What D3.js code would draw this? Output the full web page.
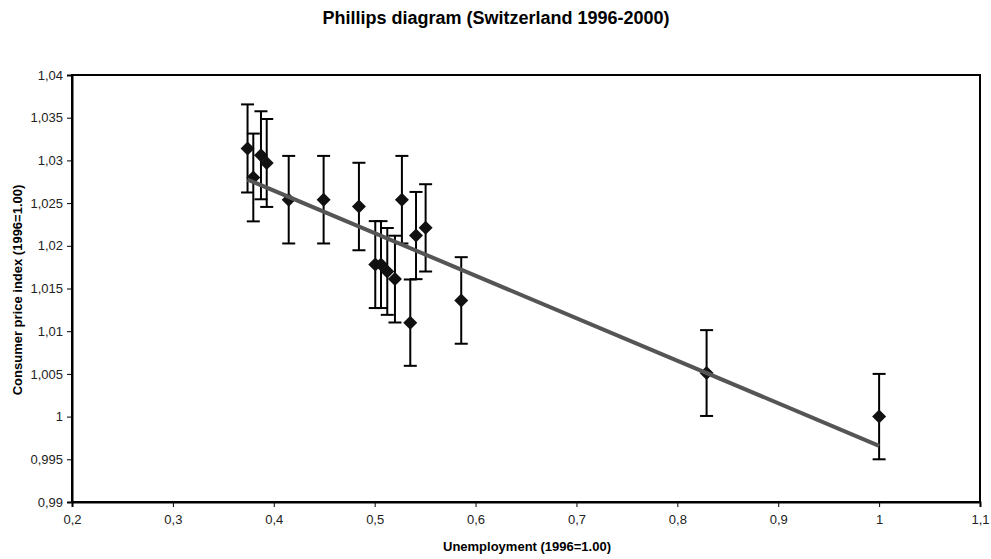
<!DOCTYPE html>
<html><head><meta charset="utf-8">
<script src="https://cdn.jsdelivr.net/npm/d3@7"></script>
<style>body{margin:0;background:#fff;} svg{display:block;font-family:Arial,"Liberation Sans",sans-serif;}</style>
</head><body>
<svg id="c" width="991" height="559"></svg>
<script>
const unemployment = [0.374,0.3797,0.3873,0.393,0.4148,0.4494,0.4844,0.527,0.541,0.5505,0.5006,0.5063,0.5125,0.5201,0.5353,0.5858,0.829,1.0];
const cpi =          [1.0314,1.0280,1.0306,1.0297,1.0254,1.0254,1.0246,1.0254,1.0212,1.0221,1.0178,1.0178,1.0170,1.0161,1.0110,1.0136,1.0051,1.0000];
const errorPercent = 0.5;
const xTicks = [0.2,0.3,0.4,0.5,0.6,0.7,0.8,0.9,1.0,1.1];
const xTickLabels = ["0,2","0,3","0,4","0,5","0,6","0,7","0,8","0,9","1","1,1"];
const yTicks = [0.99,0.995,1.0,1.005,1.01,1.015,1.02,1.025,1.03,1.035,1.04];
const yTickLabels = ["0,99","0,995","1","1,005","1,01","1,015","1,02","1,025","1,03","1,035","1,04"];
const title = "Phillips diagram (Switzerland 1996-2000)";
const xTitle = "Unemployment (1996=1.00)";
const yTitle = "Consumer price index (1996=1.00)";

const svg = d3.select("#c");
const L=72,R=980,T=75,B=502;
const x = d3.scaleLinear().domain([0.2,1.1]).range([L,R]);
const y = d3.scaleLinear().domain([0.99,1.04]).range([B,T]);

svg.append("rect").attr("x",L).attr("y",T).attr("width",R-L).attr("height",B-T)
  .attr("fill","#fff").attr("stroke","#000").attr("stroke-width",2);

const xa = svg.append("g").attr("transform",`translate(0,${B})`)
  .call(d3.axisBottom(x).tickValues(xTicks).tickSize(5).tickPadding(8).tickFormat((d,i)=>xTickLabels[i]));
const ya = svg.append("g").attr("transform",`translate(${L},0)`)
  .call(d3.axisLeft(y).tickValues(yTicks).tickSize(5).tickPadding(4).tickFormat((d,i)=>yTickLabels[i]));
[xa,ya].forEach(a=>{
  a.select(".domain").attr("stroke","#000").attr("stroke-width",2);
  a.selectAll(".tick line").attr("stroke","#000").attr("stroke-width",1);
  a.selectAll("text").attr("font-size",13).attr("fill","#222").attr("font-family","Arial, 'Liberation Sans', sans-serif");
});

const data = unemployment.map((u,i)=>({x:u,y:cpi[i]}));

const eb = svg.append("g").attr("stroke","#000").attr("stroke-width",2);
data.forEach(d=>{
  const e = d.y*errorPercent/100;
  const cx = x(d.x), y1=y(d.y+e), y2=y(d.y-e);
  eb.append("line").attr("x1",cx).attr("x2",cx).attr("y1",y1).attr("y2",y2);
  eb.append("line").attr("x1",cx-6.5).attr("x2",cx+6.5).attr("y1",y1).attr("y2",y1);
  eb.append("line").attr("x1",cx-6.5).attr("x2",cx+6.5).attr("y1",y2).attr("y2",y2);
});

svg.append("g").selectAll("path").data(data).join("path")
  .attr("d","M0,-7L7,0L0,7L-7,0Z")
  .attr("transform",d=>`translate(${x(d.x)},${y(d.y)})`)
  .attr("fill","#111");

const mx=d3.mean(data,d=>d.x), my=d3.mean(data,d=>d.y);
const slope=d3.sum(data,d=>(d.x-mx)*(d.y-my))/d3.sum(data,d=>(d.x-mx)**2);
const icpt=my-slope*mx;
const ext=d3.extent(data,d=>d.x);
svg.append("path").datum(ext.map(v=>[v,icpt+slope*v]))
  .attr("d",d3.line().x(d=>x(d[0])).y(d=>y(d[1])))
  .attr("stroke","#555").attr("stroke-width",4).attr("fill","none");

svg.append("text").attr("x",496).attr("y",24).attr("text-anchor","middle")
  .attr("font-weight","bold").attr("font-size",18).text(title);
svg.append("text").attr("x",527).attr("y",551).attr("text-anchor","middle")
  .attr("font-weight","bold").attr("font-size",13).text(xTitle);
svg.append("text").attr("transform","translate(22,290) rotate(-90)").attr("text-anchor","middle")
  .attr("font-weight","bold").attr("font-size",13).text(yTitle);
</script>
</body></html>
